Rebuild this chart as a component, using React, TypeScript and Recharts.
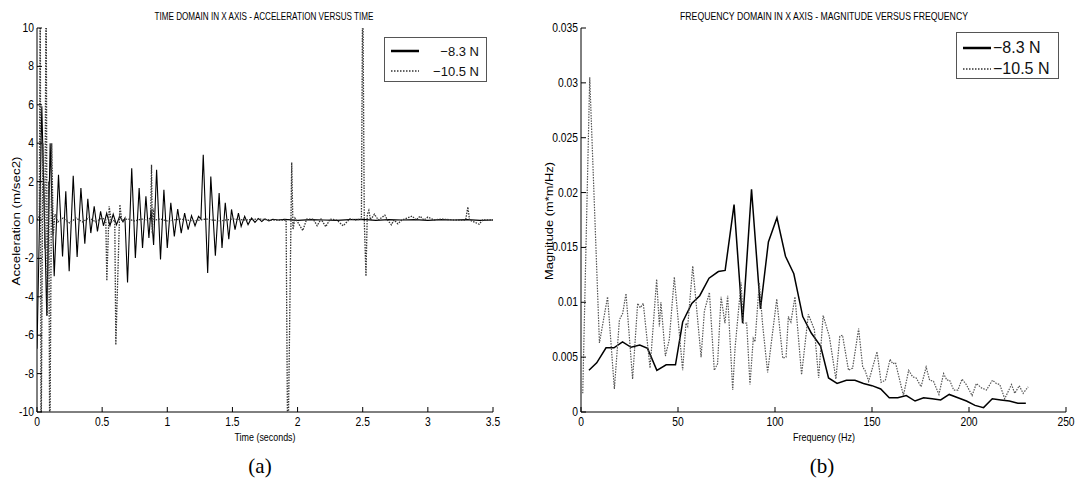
import React from 'react';
import { LineChart, Line, XAxis, YAxis, Legend } from 'recharts';

const NARROW = '"Liberation Sans Narrow", "Liberation Sans", Arial, sans-serif';
const SANS = '"Liberation Sans", Arial, sans-serif';
const SERIF = '"Liberation Serif", "Times New Roman", serif';

const seriesNames = ['\u22128.3 N', '\u221210.5 N'];

// ---- (a) time domain ----
const timeTicks = [0, 0.5, 1, 1.5, 2, 2.5, 3, 3.5];
const timeTickLabels = ['0', '0.5', '1', '1.5', '2', '2.5', '3', '3.5'];
const accelTicks = [-10, -8, -6, -4, -2, 0, 2, 4, 6, 8, 10];
const accelTickLabels = ['-10', '-8', '-6', '-4', '-2', '0', '2', '4', '6', '8', '10'];

const time83 = [0, 0.037, 0.075, 0.101, 0.132, 0.165, 0.196, 0.221, 0.247, 0.278, 0.308, 0.337, 0.367, 0.39, 0.413, 0.439, 0.464, 0.488, 0.51, 0.535, 0.56, 0.585, 0.61, 0.635, 0.66, 0.675, 0.695, 0.727, 0.755, 0.784, 0.81, 0.836, 0.859, 0.875, 0.895, 0.918, 0.948, 0.974, 1.0, 1.027, 1.054, 1.08, 1.107, 1.133, 1.16, 1.186, 1.213, 1.24, 1.258, 1.276, 1.31, 1.334, 1.369, 1.398, 1.42, 1.445, 1.472, 1.493, 1.52, 1.546, 1.567, 1.594, 1.62, 1.647, 1.673, 1.7, 1.725, 1.75, 1.78, 1.81, 1.85, 1.9, 2.0, 2.1, 2.2, 2.3, 2.4, 2.5, 2.6, 2.7, 2.8, 2.9, 3.0, 3.1, 3.2, 3.3, 3.4, 3.5];
const accel83 = [-6.7, 5.92, -4.98, 4.0, -2.93, 2.36, -1.9, 1.5, -2.67, 2.3, -1.93, 1.67, -1.23, 1.1, -0.68, 0.71, -0.6, 0.45, -0.3, 0.35, -0.3, 0.3, -0.25, 0.2, -0.1, 0.1, -3.25, 2.7, -1.98, 1.67, -1.46, 1.23, -0.94, 0.55, -1.3, 2.62, -2.05, 1.58, -1.46, 0.9, -0.85, 0.57, -0.68, 0.36, -0.5, 0.23, -0.3, 0.19, 0.05, 3.4, -2.76, 2.27, -1.86, 1.4, -1.46, 0.9, -1.0, 0.55, -0.5, 0.36, -0.33, 0.19, -0.24, 0.1, -0.12, 0.08, -0.08, 0.06, -0.05, 0.04, 0, 0.03, -0.02, 0.02, 0, -0.02, 0.02, 0.03, -0.02, 0.02, 0, 0.02, -0.02, 0.02, 0, 0.02, -0.02, 0];

const time105 = [0, 0.018, 0.025, 0.031, 0.045, 0.06, 0.07, 0.078, 0.09, 0.098, 0.113, 0.125, 0.138, 0.16, 0.2, 0.25, 0.3, 0.35, 0.4, 0.45, 0.5, 0.528, 0.536, 0.554, 0.57, 0.597, 0.605, 0.636, 0.65, 0.7, 0.75, 0.8, 0.85, 0.872, 0.879, 0.885, 0.892, 0.9, 0.95, 1.0, 1.1, 1.2, 1.3, 1.4, 1.5, 1.6, 1.7, 1.8, 1.9, 1.912, 1.925, 1.955, 1.965, 1.98, 2.0, 2.04, 2.07, 2.12, 2.15, 2.18, 2.216, 2.25, 2.3, 2.35, 2.4, 2.45, 2.49, 2.5, 2.512, 2.525, 2.535, 2.547, 2.56, 2.59, 2.62, 2.67, 2.69, 2.72, 2.74, 2.77, 2.8, 2.88, 2.91, 2.94, 2.97, 3.0, 3.05, 3.1, 3.2, 3.29, 3.307, 3.32, 3.394, 3.42, 3.5];
const accel105 = [0, 0.2, 13, -13, 4, -1.5, 13, -5, 2, -13, 4.0, -0.8, 0.3, -0.1, 0.1, -0.15, 0.1, -0.1, 0.12, -0.1, 0.1, 0, -3.16, 0.71, -0.1, 0, -6.5, 0.8, 0, 0.05, -0.05, 0.05, 0, 0.1, 2.88, -0.7, 0.6, 0, 0.05, -0.05, 0.05, -0.05, 0.05, -0.05, 0.05, 0, 0.05, 0, 0, 0, -13, 3.0, -0.5, 0.1, -0.1, -0.55, 0.05, 0.05, -0.3, 0.05, -0.35, 0.05, 0, -0.3, 0.05, 0, 0.05, 13, 0, -2.93, 0.3, 0.5, 0, 0.3, 0, 0.25, 0, -0.25, 0, -0.2, 0, 0.2, 0, 0.2, 0, 0.15, 0, 0.05, 0, 0, 0.68, 0, -0.22, 0, 0];

// ---- (b) frequency domain ----
const freqTicks = [0, 50, 100, 150, 200, 250];
const freqTickLabels = ['0', '50', '100', '150', '200', '250'];
const magTicks = [0, 0.005, 0.01, 0.015, 0.02, 0.025, 0.03, 0.035];
const magTickLabels = ['0', '0.005', '0.01', '0.015', '0.02', '0.025', '0.03', '0.035'];

const freq83 = [4.1, 8.1, 12.9, 17.0, 21.4, 25.8, 30.3, 34.3, 39.1, 43.9, 48.7, 52.4, 57.1, 61.2, 66.0, 70.8, 74.3, 78.9, 83.3, 87.9, 92.5, 96.6, 101.0, 105.4, 109.7, 114.3, 118.7, 123.5, 127.6, 132.0, 136.8, 141.2, 145.6, 150.0, 154.5, 158.9, 163.3, 167.7, 172.2, 176.6, 181.0, 185.4, 189.8, 194.3, 198.7, 203.1, 207.5, 212.0, 216.4, 220.8, 225.2, 229.3];
const mag83 = [0.0038, 0.00448, 0.00585, 0.00585, 0.0064, 0.0059, 0.0061, 0.0058, 0.0038, 0.0043, 0.0043, 0.0082, 0.0099, 0.0106, 0.0122, 0.0128, 0.0129, 0.0189, 0.0081, 0.0203, 0.0094, 0.0155, 0.0177, 0.0142, 0.0126, 0.0087, 0.0072, 0.006, 0.0031, 0.0026, 0.0029, 0.0029, 0.0026, 0.0024, 0.0021, 0.0013, 0.0013, 0.0015, 0.001, 0.0013, 0.0012, 0.0011, 0.0016, 0.0013, 0.001, 0.0006, 0.0004, 0.0012, 0.0011, 0.001, 0.0008, 0.0008];

const freq105 = [0.9, 4.5, 9.5, 13.7, 17.2, 19.8, 21.5, 23.2, 26.6, 29.2, 30.6, 32.1, 35.6, 39.0, 40.4, 41.2, 43.5, 45.5, 48.1, 52.4, 54.1, 55.0, 57.6, 61.9, 63.6, 66.2, 68.7, 70.4, 72.2, 74.2, 75.6, 78.2, 79.4, 82.5, 83.7, 85.4, 87.1, 88.8, 89.7, 91.9, 93.6, 96.2, 100.9, 104.0, 105.7, 106.9, 108.2, 110.3, 113.7, 117.2, 120.3, 122.5, 124.8, 128.0, 131.4, 133.4, 134.8, 137.9, 140.0, 143.1, 145.2, 146.4, 148.3, 152.6, 154.7, 156.9, 159.3, 160.7, 162.1, 166.2, 168.9, 171.0, 172.8, 175.3, 177.9, 179.7, 181.7, 184.5, 186.9, 188.6, 190.0, 192.1, 194.3, 196.4, 198.6, 201.6, 203.8, 206.4, 209.0, 212.1, 214.1, 215.9, 218.4, 221.9, 223.6, 225.9, 227.9, 230.5];
const mag105 = [0.0017, 0.0305, 0.0063, 0.0105, 0.0021, 0.0084, 0.009, 0.0108, 0.003, 0.0099, 0.0095, 0.0099, 0.004, 0.0121, 0.0078, 0.01, 0.0051, 0.0066, 0.0123, 0.0038, 0.0081, 0.0078, 0.0133, 0.005, 0.0092, 0.0109, 0.0038, 0.0044, 0.0105, 0.0081, 0.0106, 0.002, 0.0058, 0.0118, 0.0081, 0.0081, 0.0025, 0.0067, 0.0064, 0.0118, 0.008, 0.0036, 0.0103, 0.0049, 0.005, 0.0087, 0.0082, 0.0105, 0.0034, 0.0089, 0.0075, 0.0031, 0.0088, 0.0069, 0.003, 0.0069, 0.007, 0.0038, 0.004, 0.0076, 0.0041, 0.0038, 0.0028, 0.0055, 0.0027, 0.0029, 0.0048, 0.0044, 0.0045, 0.0015, 0.0038, 0.0032, 0.0031, 0.0023, 0.0041, 0.0029, 0.0028, 0.0016, 0.0035, 0.0029, 0.0029, 0.002, 0.002, 0.003, 0.0025, 0.0015, 0.0026, 0.0022, 0.002, 0.0029, 0.0026, 0.0025, 0.0012, 0.0025, 0.0017, 0.0024, 0.0017, 0.0023];

const toPoints = (xs: number[], ys: number[]) =>
  xs.slice(0, Math.min(xs.length, ys.length)).map((x, i) => ({ x, y: ys[i] }));

const timeData83 = toPoints(time83, accel83);
const timeData105 = toPoints(time105, accel105);
const freqData83 = toPoints(freq83, mag83);
const freqData105 = toPoints(freq105, mag105);

const TL = 5; // inward tick length

// condensed tick text, like the MATLAB export
const TickText = ({ x, y, anchor, children }: any) => (
  <text transform={`translate(${x},${y}) scale(0.86,1)`} textAnchor={anchor} fontFamily={NARROW} fontSize={12} fill="#000">
    {children}
  </text>
);

const bottomTick = (labels: string[]) => (p: any) => (
  <g>
    <line x1={p.x} x2={p.x} y1={p.y} y2={p.y - TL} stroke="#000" />
    <TickText x={p.x} y={p.y + 14} anchor="middle">{labels[p.index]}</TickText>
  </g>
);
const leftTick = (labels: string[]) => (p: any) => (
  <g>
    <line x1={p.x} x2={p.x + TL} y1={p.y} y2={p.y} stroke="#000" />
    <TickText x={p.x - 3} y={p.y + 4} anchor="end">{labels[p.index]}</TickText>
  </g>
);
const topTick = (p: any) => <line x1={p.x} x2={p.x} y1={p.y} y2={p.y + TL} stroke="#000" />;
const rightTick = (p: any) => <line x1={p.x} x2={p.x - TL} y1={p.y} y2={p.y} stroke="#000" />;

const sampleStyles: Record<string, { stroke: string; width: number; dash?: string }> = {
  [seriesNames[0]]: { stroke: '#000', width: 2.5 },
  [seriesNames[1]]: { stroke: '#333', width: 1.5, dash: '1.5 1.5' },
};

function LegendBox(props: any) {
  const { payload = [], fontSize, boxW, boxH, padTop, rowH, alignRight, sampleW } = props;
  const entries = seriesNames.map((n) => payload.find((e: any) => e.value === n)).filter(Boolean);
  return (
    <div
      style={{
        width: boxW,
        height: boxH,
        boxSizing: 'border-box',
        border: '1px solid #555',
        background: '#fff',
        paddingTop: padTop,
        paddingLeft: 6,
        paddingRight: 7,
      }}
    >
      {entries.map((e: any, i: number) => {
        const s = sampleStyles[e.value];
        return (
          <div
            key={i}
            style={{
              height: rowH,
              display: 'flex',
              alignItems: 'center',
              justifyContent: alignRight ? 'space-between' : 'flex-start',
            }}
          >
            <svg width={sampleW} height={6} style={{ flex: 'none' }}>
              <line x1={0} x2={sampleW} y1={3} y2={3} stroke={s.stroke} strokeWidth={s.width} strokeDasharray={s.dash} />
            </svg>
            <span style={{ fontFamily: SANS, fontSize, lineHeight: 1, color: '#111', whiteSpace: 'nowrap', marginLeft: alignRight ? 0 : 2 }}>
              {e.value}
            </span>
          </div>
        );
      })}
    </div>
  );
}

function TimeChart() {
  return (
    <LineChart width={540} height={479} margin={{ top: 28, right: 47, bottom: 47, left: 0 }}>
      <XAxis xAxisId="b" dataKey="x" type="number" domain={[0, 3.5]} ticks={timeTicks} allowDataOverflow
        interval={0} tickSize={0} tickMargin={0} height={20} axisLine={{ stroke: '#000' }} tickLine={false} tick={bottomTick(timeTickLabels)} />
      <XAxis xAxisId="t" orientation="top" type="number" domain={[0, 3.5]} ticks={timeTicks} allowDataOverflow
        interval={0} tickSize={0} tickMargin={0} height={0} axisLine={{ stroke: '#000' }} tickLine={false} tick={topTick} />
      <YAxis yAxisId="l" type="number" domain={[-10, 10]} ticks={accelTicks} allowDataOverflow
        interval={0} tickSize={0} tickMargin={0} width={37} axisLine={{ stroke: '#000' }} tickLine={false} tick={leftTick(accelTickLabels)} />
      <YAxis yAxisId="r" orientation="right" type="number" domain={[-10, 10]} ticks={accelTicks} allowDataOverflow
        interval={0} tickSize={0} tickMargin={0} width={0} axisLine={{ stroke: '#000' }} tickLine={false} tick={rightTick} />
      <Line xAxisId="b" yAxisId="l" data={timeData83} dataKey="y" name={seriesNames[0]} type="linear"
        stroke="#000" strokeWidth={1.1} dot={false} isAnimationActive={false} />
      <Line xAxisId="b" yAxisId="l" data={timeData105} dataKey="y" name={seriesNames[1]} type="linear"
        stroke="#333" strokeWidth={1.3} strokeDasharray="1.5 1.2" dot={false} isAnimationActive={false} />
      <Legend
        layout="vertical"
        verticalAlign="middle"
        align="center"
        wrapperStyle={{ left: 384, top: 37, width: 103, height: 45 }}
        content={(p: any) => (
          <LegendBox {...p} fontSize={13} boxW={103} boxH={45} padTop={3} rowH={20} alignRight sampleW={28} />
        )}
      />
    </LineChart>
  );
}

function FreqChart() {
  return (
    <LineChart width={535} height={479} margin={{ top: 28, right: 9, bottom: 47, left: 0 }}>
      <XAxis xAxisId="b" dataKey="x" type="number" domain={[0, 250]} ticks={freqTicks} allowDataOverflow
        interval={0} tickSize={0} tickMargin={0} height={20} axisLine={{ stroke: '#000' }} tickLine={false} tick={bottomTick(freqTickLabels)} />
      <XAxis xAxisId="t" orientation="top" type="number" domain={[0, 250]} ticks={freqTicks} allowDataOverflow
        interval={0} tickSize={0} tickMargin={0} height={0} axisLine={{ stroke: '#000' }} tickLine={false} tick={topTick} />
      <YAxis yAxisId="l" type="number" domain={[0, 0.035]} ticks={magTicks} allowDataOverflow
        interval={0} tickSize={0} tickMargin={0} width={41} axisLine={{ stroke: '#000' }} tickLine={false} tick={leftTick(magTickLabels)} />
      <YAxis yAxisId="r" orientation="right" type="number" domain={[0, 0.035]} ticks={magTicks} allowDataOverflow
        interval={0} tickSize={0} tickMargin={0} width={0} axisLine={{ stroke: '#000' }} tickLine={false} tick={rightTick} />
      <Line xAxisId="b" yAxisId="l" data={freqData83} dataKey="y" name={seriesNames[0]} type="linear"
        stroke="#000" strokeWidth={1.5} dot={false} isAnimationActive={false} />
      <Line xAxisId="b" yAxisId="l" data={freqData105} dataKey="y" name={seriesNames[1]} type="linear"
        stroke="#555" strokeWidth={1.2} strokeDasharray="1.5 1.2" dot={false} isAnimationActive={false} />
      <Legend
        layout="vertical"
        verticalAlign="middle"
        align="center"
        wrapperStyle={{ left: 416, top: 32, width: 103, height: 47 }}
        content={(p: any) => (
          <LegendBox {...p} fontSize={16} boxW={103} boxH={47} padTop={4} rowH={21.5} sampleW={28} />
        )}
      />
    </LineChart>
  );
}

export default function App() {
  return (
    <div style={{ position: 'absolute', left: 0, top: 0, width: 1075, height: 479, background: '#fff' }}>
      <div style={{ position: 'absolute', left: 0, top: 0 }}>
        <TimeChart />
      </div>
      <div style={{ position: 'absolute', left: 540, top: 0 }}>
        <FreqChart />
      </div>
      <svg width={1075} height={479} style={{ position: 'absolute', left: 0, top: 0, pointerEvents: 'none' }}>
        <text x={264} y={20} textAnchor="middle" fontFamily={NARROW} fontSize={10.5} textLength={219} lengthAdjust="spacingAndGlyphs">
          TIME DOMAIN IN X AXIS - ACCELERATION VERSUS TIME
        </text>
        <text x={824} y={20} textAnchor="middle" fontFamily={NARROW} fontSize={10.5} textLength={288} lengthAdjust="spacingAndGlyphs">
          FREQUENCY DOMAIN IN X AXIS - MAGNITUDE VERSUS FREQUENCY
        </text>
        <text x={265} y={441} textAnchor="middle" fontFamily={NARROW} fontSize={11.5} textLength={61} lengthAdjust="spacingAndGlyphs">
          Time (seconds)
        </text>
        <text x={824} y={441} textAnchor="middle" fontFamily={NARROW} fontSize={11.5} textLength={62} lengthAdjust="spacingAndGlyphs">
          Frequency (Hz)
        </text>
        <text x={20} y={221} transform="rotate(-90 20 221)" textAnchor="middle" fontFamily={SANS} fontSize={11} textLength={129} lengthAdjust="spacingAndGlyphs">
          Acceleration (m/sec2)
        </text>
        <text x={553} y={221} transform="rotate(-90 553 221)" textAnchor="middle" fontFamily={SANS} fontSize={11} textLength={118} lengthAdjust="spacingAndGlyphs">
          Magnitude (m*m/Hz)
        </text>
        <text x={260} y={473} textAnchor="middle" fontFamily={SERIF} fontSize={21}>(a)</text>
        <text x={822} y={473} textAnchor="middle" fontFamily={SERIF} fontSize={21}>(b)</text>
      </svg>
    </div>
  );
}
